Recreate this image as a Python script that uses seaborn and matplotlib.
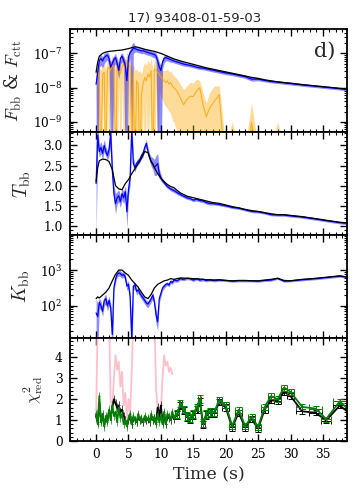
import numpy as np
import matplotlib
matplotlib.use("Agg")
import matplotlib.pyplot as plt
import seaborn as sns
from matplotlib.ticker import MultipleLocator

# time bins (s); 0.25 s resolution early, coarser later
t_bin = [0.0, 0.25, 0.5, 0.75, 1.0, 1.25, 1.5, 1.75,
         2.0, 2.25, 2.5, 2.75, 3.0, 3.25, 3.5, 3.75,
         4.0, 4.25, 4.5, 4.75, 5.0, 5.25, 5.5, 5.75,
         6.0, 6.25, 6.5, 6.75, 7.0, 7.25, 7.5, 7.75,
         8.0, 8.25, 8.5, 8.75, 9.0, 9.25, 9.5, 9.75,
         10.0, 10.25, 10.5, 10.75, 11.0, 11.25, 11.5, 11.75,
         12.0,
         12.5, 13.0, 13.5, 14.0, 14.5, 15.0, 15.5, 16.0, 16.5, 17.0, 17.5, 18.25,
         19.0, 20.0, 21.0, 22.0, 23.0, 24.0, 25.0, 26.0, 27.0, 28.0, 29.0, 30.0,
         31.8, 33.9, 35.5, 37.6, 39.6]
t_halfwidth = [0.125, 0.125, 0.125, 0.125, 0.125, 0.125, 0.125, 0.125,
               0.125, 0.125, 0.125, 0.125, 0.125, 0.125, 0.125, 0.125,
               0.125, 0.125, 0.125, 0.125, 0.125, 0.125, 0.125, 0.125,
               0.125, 0.125, 0.125, 0.125, 0.125, 0.125, 0.125, 0.125,
               0.125, 0.125, 0.125, 0.125, 0.125, 0.125, 0.125, 0.125,
               0.125, 0.125, 0.125, 0.125, 0.125, 0.125, 0.125, 0.125,
               0.125,
               0.25, 0.25, 0.25, 0.25, 0.25, 0.25, 0.25, 0.25, 0.25, 0.25, 0.25, 0.375,
               0.4, 0.5, 0.5, 0.5, 0.5, 0.5, 0.5, 0.5, 0.5, 0.5, 0.5, 0.5,
               1.0, 1.0, 0.8, 1.1, 0.9]

# blackbody flux (log10 erg/cm2/s) and errors in dex
fbb_log = [-7.90, -7.55, -7.20, -7.15, -7.22, -7.12, -7.08, -7.05,
           -7.15, -7.40, -7.30, -7.18, -7.12, -7.30, -7.50, -7.15,
           -7.08, -7.20, -7.35, -7.80, -7.10, -6.98, -6.92, -6.85,
           -6.86, -6.88, -6.90, -6.91, -6.93, -6.92, -6.94, -6.96,
           -6.97, -6.99, -7.00, -7.02, -7.03, -7.08, -7.22, -7.40,
           -7.50, -7.25, -7.15, -7.12, -7.14, -7.16, -7.18, -7.20,
           -7.22,
           -7.25, -7.28, -7.31, -7.33, -7.35, -7.37, -7.40, -7.42, -7.43, -7.45, -7.47, -7.50,
           -7.53, -7.57, -7.60, -7.64, -7.68, -7.75, -7.75, -7.79, -7.82, -7.84, -7.86, -7.88,
           -7.92, -7.96, -7.99, -8.03, -8.07]
fbb_up = [0.25, 0.20, 0.12, 0.12, 0.12, 0.12, 0.10, 0.10,
          0.12, 0.15, 0.15, 0.12, 0.12, 0.15, 0.15, 0.12,
          0.10, 0.12, 0.15, 0.20, 0.12, 0.12, 0.18, 0.18,
          0.10, 0.08, 0.08, 0.08, 0.08, 0.08, 0.08, 0.08,
          0.08, 0.08, 0.08, 0.08, 0.08, 0.10, 0.12, 0.15,
          0.15, 0.12, 0.10, 0.08, 0.08, 0.08, 0.08, 0.06,
          0.06,
          0.06, 0.06, 0.06, 0.05, 0.05, 0.05, 0.05, 0.05, 0.05, 0.05, 0.05, 0.05,
          0.05, 0.05, 0.05, 0.05, 0.05, 0.06, 0.05, 0.04, 0.04, 0.04, 0.04, 0.04,
          0.04, 0.04, 0.04, 0.04, 0.04]
fbb_lo = [3.0, 3.0, 0.20, 0.20, 0.20, 0.18, 0.15, 0.15,
          0.20, 3.0, 3.0, 0.20, 0.18, 0.20, 0.25, 0.18,
          0.15, 0.20, 3.0, 3.0, 0.20, 0.15, 3.0, 0.15,
          0.10, 0.08, 0.08, 0.08, 0.08, 0.08, 0.08, 0.08,
          0.08, 0.08, 0.08, 0.10, 0.10, 0.12, 3.0, 3.0,
          3.0, 0.20, 0.12, 0.10, 0.08, 0.08, 0.08, 0.06,
          0.06,
          0.06, 0.06, 0.06, 0.05, 0.05, 0.05, 0.05, 0.05, 0.05, 0.05, 0.05, 0.05,
          0.05, 0.05, 0.05, 0.05, 0.05, 0.06, 0.05, 0.04, 0.04, 0.04, 0.04, 0.04,
          0.04, 0.04, 0.04, 0.04, 0.04]

# Comptonised (ctt) flux, log10, errors in dex
fctt_log = [-7.60, -7.50, -7.70, -10.5, -7.60, -7.55, -10.5, -7.45,
            -7.40, -7.50, -7.30, -7.45, -10.5, -7.35, -7.50, -7.60,
            -7.40, -7.30, -7.50, -7.20, -7.30, -7.40, -10.5, -7.60,
            -10.5, -7.80, -7.90, -10.5, -8.20, -7.90, -7.70, -7.80,
            -7.60, -7.70, -7.50, -10.5, -7.45, -7.50, -7.55, -7.60,
            -7.70, -7.75, -7.80, -7.85, -7.80, -7.90, -7.85, -7.95,
            -8.00,
            -8.10, -8.30, -8.50, -8.35, -8.25, -8.26, -8.10, -8.00, -8.50, -8.85, -8.60, -8.40,
            -8.20, -10.5, -9.50, -10.5, -10.5, -9.00, -10.5, -10.5, -10.5, -9.50, -10.5, -10.5,
            -10.5, -10.5, -10.5, -10.5, -10.5]
fctt_up = [0.25, 0.25, 0.30, 3.0, 0.25, 0.25, 3.0, 0.25,
           0.25, 0.25, 0.25, 0.25, 3.0, 0.25, 0.25, 0.25,
           0.25, 0.25, 0.25, 0.25, 0.25, 0.25, 3.0, 0.30,
           3.0, 0.35, 0.35, 3.0, 0.60, 0.50, 0.45, 0.45,
           0.40, 0.40, 0.35, 3.0, 0.30, 0.30, 0.30, 0.25,
           0.25, 0.25, 0.30, 0.35, 0.35, 0.35, 0.35, 0.35,
           0.35,
           0.35, 0.40, 0.45, 0.40, 0.40, 0.40, 0.35, 0.20, 0.35, 0.40, 0.45, 0.45,
           0.25, 0.8, 0.50, 0.8, 0.8, 0.55, 0.8, 0.8, 0.8, 0.50, 0.8, 0.8,
           0.8, 0.8, 0.8, 0.8, 0.8]
fctt_lo = [0.40, 3.0, 3.0, 0.5, 0.40, 3.0, 0.5, 0.40,
           3.0, 0.40, 3.0, 0.40, 0.5, 3.0, 0.40, 3.0,
           0.40, 3.0, 3.0, 0.40, 3.0, 0.40, 0.5, 3.0,
           0.5, 3.0, 3.0, 0.5, 3.0, 0.60, 3.0, 0.60,
           3.0, 0.50, 3.0, 0.5, 3.0, 0.50, 3.0, 0.50,
           0.60, 0.60, 0.70, 0.70, 0.80, 0.80, 0.90, 1.0,
           1.0,
           1.2, 3.0, 3.0, 1.2, 3.0, 1.0, 3.0, 3.0, 3.0, 3.0, 3.0, 3.0,
           3.0, 3.0, 3.0, 3.0, 3.0, 3.0, 3.0, 3.0, 3.0, 3.0, 3.0, 3.0,
           3.0, 3.0, 3.0, 3.0, 3.0]

# blackbody temperature (keV)
tbb = [2.05, 3.25, 2.85, 2.95, 2.80, 3.00, 2.85, 2.75,
       2.90, 3.30, 2.40, 1.80, 1.55, 1.70, 1.75, 1.60,
       1.80, 1.70, 1.85, 1.35, 1.90, 2.20, 3.40, 2.55,
       2.45, 2.55, 2.60, 2.65, 2.75, 2.80, 2.95, 3.05,
       2.85, 2.70, 2.60, 2.55, 2.45, 2.50, 2.55, 2.30,
       2.20, 2.12, 2.08, 2.02, 1.98, 1.95, 1.92, 1.90,
       1.88,
       1.83, 1.78, 1.74, 1.70, 1.68, 1.64, 1.66, 1.63, 1.62, 1.58, 1.56, 1.55,
       1.53, 1.50, 1.46, 1.44, 1.40, 1.36, 1.35, 1.32, 1.28, 1.27, 1.27, 1.25,
       1.22, 1.17, 1.13, 1.08, 1.05]
tbb_err = [1.30, 0.30, 0.15, 0.15, 0.15, 0.15, 0.12, 0.12,
           0.15, 0.30, 0.25, 0.20, 0.25, 0.15, 0.15, 0.15,
           0.15, 0.15, 0.15, 0.40, 0.15, 0.20, 0.30, 0.15,
           0.10, 0.08, 0.08, 0.08, 0.08, 0.08, 0.08, 0.10,
           0.10, 0.10, 0.12, 0.15, 0.20, 0.25, 0.25, 0.12,
           0.08, 0.06, 0.05, 0.05, 0.05, 0.05, 0.05, 0.05,
           0.05,
           0.05, 0.04, 0.04, 0.04, 0.04, 0.04, 0.04, 0.04, 0.04, 0.04, 0.04, 0.03,
           0.03, 0.03, 0.03, 0.03, 0.03, 0.03, 0.03, 0.03, 0.03, 0.03, 0.03, 0.03,
           0.03, 0.03, 0.03, 0.03, 0.03]

# blackbody normalisation, log10
kbb_log = [1.80, 1.70, 2.10, 2.00, 1.85, 2.15, 2.20, 2.00,
           2.15, 1.95, 1.20, 2.50, 2.75, 2.88, 2.92, 2.90,
           2.85, 2.88, 2.80, 2.55, 2.60, 2.25, 1.05, 2.55,
           2.58, 2.40, 2.45, 2.35, 2.28, 2.22, 2.15, 2.08,
           2.05, 2.12, 2.20, 2.30, 2.10, 1.75, 1.55, 2.20,
           2.35, 2.50, 2.55, 2.60, 2.62, 2.58, 2.68, 2.65,
           2.72,
           2.70, 2.76, 2.74, 2.77, 2.76, 2.72, 2.76, 2.72, 2.74, 2.71, 2.73, 2.71,
           2.72, 2.71, 2.69, 2.70, 2.70, 2.70, 2.69, 2.71, 2.72, 2.77, 2.69, 2.70,
           2.73, 2.76, 2.79, 2.83, 2.78]
kbb_up = [0.40, 0.35, 0.12, 0.12, 0.12, 0.12, 0.12, 0.12,
          0.12, 0.12, 0.30, 0.10, 0.08, 0.08, 0.08, 0.08,
          0.08, 0.08, 0.08, 0.10, 0.10, 0.12, 0.30, 0.10,
          0.08, 0.08, 0.08, 0.08, 0.08, 0.08, 0.08, 0.08,
          0.08, 0.08, 0.08, 0.08, 0.10, 0.15, 0.15, 0.10,
          0.08, 0.06, 0.06, 0.05, 0.05, 0.05, 0.05, 0.05,
          0.05,
          0.04, 0.04, 0.04, 0.04, 0.04, 0.04, 0.04, 0.04, 0.04, 0.04, 0.04, 0.04,
          0.03, 0.03, 0.03, 0.03, 0.03, 0.03, 0.03, 0.03, 0.03, 0.03, 0.03, 0.03,
          0.03, 0.03, 0.03, 0.03, 0.03]
kbb_lo = [1.00, 1.00, 0.15, 0.15, 0.15, 0.15, 0.15, 0.15,
          0.15, 0.20, 1.00, 0.12, 0.10, 0.08, 0.08, 0.08,
          0.08, 0.08, 0.10, 0.12, 0.12, 0.15, 1.00, 0.12,
          0.10, 0.10, 0.10, 0.10, 0.10, 0.10, 0.10, 0.10,
          0.10, 0.10, 0.10, 0.10, 0.15, 0.25, 0.25, 0.12,
          0.10, 0.08, 0.06, 0.06, 0.05, 0.05, 0.05, 0.05,
          0.05,
          0.04, 0.04, 0.04, 0.04, 0.04, 0.04, 0.04, 0.04, 0.04, 0.04, 0.04, 0.04,
          0.03, 0.03, 0.03, 0.03, 0.03, 0.03, 0.03, 0.03, 0.03, 0.03, 0.03, 0.03,
          0.03, 0.03, 0.03, 0.03, 0.03]

# reduced chi^2: bb+ctt fit (green) and reference fit (black)
chi_green = [1.30, 0.80, 2.15, 0.90, 1.30, 0.70, 1.20, 0.90,
             1.50, 1.00, 1.70, 1.20, 1.40, 0.90, 1.60, 1.10,
             1.30, 0.80, 1.00, 0.70, 1.10, 1.30, 0.80, 1.20,
             1.00, 0.90, 1.30, 1.00, 1.10, 0.90, 1.20, 1.00,
             1.10, 0.90, 1.30, 1.00, 1.10, 0.80, 1.30, 0.90,
             1.20, 0.80, 1.40, 0.80, 1.30, 1.20, 1.00, 1.40,
             1.10,
             1.30, 1.80, 1.50, 1.20, 1.10, 1.30, 1.60, 2.00, 0.85, 1.30, 1.40, 1.40,
             1.95, 1.72, 0.72, 1.50, 0.72, 1.15, 0.68, 1.62, 2.15, 2.00, 2.55, 2.35,
             1.63, 1.55, 1.05, 1.90, 1.30]
chi_black = [1.20, 0.90, 1.80, 1.00, 1.20, 0.80, 1.10, 1.00,
             1.40, 1.20, 1.60, 2.00, 1.80, 1.60, 1.70, 1.40,
             1.50, 1.20, 1.00, 0.80, 1.00, 1.20, 0.80, 1.10,
             1.00, 0.90, 1.20, 1.00, 1.05, 0.90, 1.10, 1.00,
             1.05, 0.90, 1.20, 1.00, 1.10, 0.90, 1.60, 1.20,
             1.70, 0.90, 1.30, 0.80, 1.20, 1.10, 1.00, 1.30,
             1.05,
             1.25, 1.70, 1.45, 1.15, 1.05, 1.25, 1.50, 1.90, 0.80, 1.25, 1.35, 1.35,
             1.85, 1.60, 0.65, 1.35, 0.65, 1.05, 0.60, 1.50, 1.95, 1.90, 2.35, 2.15,
             1.42, 1.35, 0.98, 1.70, 1.20]
chi_err = [0.20, 0.20, 0.20, 0.20, 0.20, 0.20, 0.20, 0.20,
           0.20, 0.20, 0.20, 0.20, 0.20, 0.20, 0.20, 0.20,
           0.20, 0.20, 0.20, 0.20, 0.20, 0.20, 0.20, 0.20,
           0.20, 0.20, 0.20, 0.20, 0.20, 0.20, 0.20, 0.20,
           0.20, 0.20, 0.20, 0.20, 0.20, 0.20, 0.20, 0.20,
           0.20, 0.20, 0.20, 0.20, 0.20, 0.20, 0.20, 0.20,
           0.20,
           0.18, 0.18, 0.18, 0.18, 0.18, 0.18, 0.18, 0.18, 0.18, 0.18, 0.18, 0.18,
           0.15, 0.15, 0.15, 0.15, 0.15, 0.15, 0.15, 0.15, 0.15, 0.15, 0.15, 0.15,
           0.12, 0.12, 0.12, 0.12, 0.12]
# bb-only fit, first 11.75 s
chi_pink = [1.10, 6.0, 6.0, 6.0, 6.0, 6.0, 6.0, 6.0,
            6.0, 1.90, 1.60, 3.00, 4.10, 3.40, 3.80, 2.60,
            3.30, 1.70, 2.30, 1.10, 2.00, 1.30, 3.30, 6.0,
            6.0, 6.0, 6.0, 6.0, 6.0, 6.0, 6.0, 6.0,
            6.0, 6.0, 6.0, 6.0, 6.0, 2.50, 1.50, 1.20,
            1.40, 3.00, 4.10, 3.60, 3.80, 3.30, 3.50, 3.20]

# total-model curves (black), own time grid
t_tot = [0.0, 0.25, 0.5, 1.0, 1.5, 2.0, 2.5, 3.0, 3.5, 4.0, 4.5, 5.0, 5.5, 6.0, 6.5,
         7.0, 7.5, 8.0, 8.5, 9.0, 9.5, 10.0, 10.5, 11.0, 11.5, 12.0, 13.0, 14.0, 15.0,
         16.0, 17.0, 18.0, 19.0, 20.0, 21.0, 22.0, 23.0, 24.0, 25.0, 26.0, 27.0, 28.0,
         29.0, 30.0, 31.8, 33.9, 35.5, 37.6, 39.6]
ftot_log = [-7.55, -7.25, -7.08, -7.00, -6.96, -6.94, -6.93, -6.92, -6.91, -6.90, -6.88,
            -6.86, -6.83, -6.81, -6.82, -6.85, -6.88, -6.90, -6.92, -6.94, -6.97, -7.00,
            -7.04, -7.08, -7.12, -7.16, -7.22, -7.27, -7.32, -7.37, -7.42, -7.46, -7.50,
            -7.54, -7.58, -7.62, -7.66, -7.70, -7.73, -7.77, -7.80, -7.83, -7.85, -7.87,
            -7.91, -7.95, -7.98, -8.02, -8.06]
ttot = [2.10, 2.45, 2.62, 2.66, 2.65, 2.60, 2.40, 2.00, 1.92, 1.90, 2.05, 2.15, 2.30,
        2.42, 2.55, 2.68, 2.85, 2.82, 2.60, 2.45, 2.30, 2.18, 2.10, 2.03, 1.98, 1.95,
        1.82, 1.74, 1.70, 1.66, 1.62, 1.58, 1.56, 1.52, 1.48, 1.45, 1.41, 1.38, 1.36,
        1.33, 1.30, 1.28, 1.28, 1.26, 1.23, 1.18, 1.14, 1.09, 1.06]
ktot_log = [2.20, 2.25, 2.22, 2.30, 2.38, 2.50, 2.70, 2.88, 3.00, 3.00, 2.92, 2.85, 2.72,
            2.62, 2.52, 2.38, 2.25, 2.20, 2.32, 2.50, 2.60, 2.65, 2.70, 2.72, 2.76, 2.74,
            2.78, 2.77, 2.76, 2.75, 2.73, 2.72, 2.73, 2.71, 2.70, 2.71, 2.71, 2.70, 2.70,
            2.72, 2.74, 2.77, 2.71, 2.70, 2.74, 2.77, 2.80, 2.84, 2.78]

TITLE = "17) 93408-01-59-03"
N_FINE = 49  # number of 0.25 s bins

sns.set_style("ticks")
plt.rcParams.update({
    "font.family": "DejaVu Serif",
    "mathtext.fontset": "cm",
    "axes.linewidth": 1.3,
    "axes.edgecolor": "black",
    "xtick.direction": "in", "ytick.direction": "in",
    "xtick.top": True, "ytick.right": True,
    "xtick.minor.visible": True, "ytick.minor.visible": True,
    "xtick.major.size": 5, "ytick.major.size": 5,
    "xtick.minor.size": 2.5, "ytick.minor.size": 2.5,
    "xtick.major.width": 1.0, "ytick.major.width": 1.0,
    "xtick.minor.width": 0.8, "ytick.minor.width": 0.8,
    "xtick.major.pad": 5, "ytick.major.pad": 5.5,
    "xtick.color": "black", "ytick.color": "black",
    "xtick.labelsize": 8.8, "ytick.labelsize": 8.8,
})

t = np.array(t_bin)
hw = np.array(t_halfwidth)
tt = np.array(t_tot)

fig, axes = plt.subplots(4, 1, sharex=True, figsize=(3.58, 4.95), dpi=100)
fig.subplots_adjust(left=0.196, right=0.969, top=0.941, bottom=0.109, hspace=0)

# 1. fluxes
ax = axes[0]
fc = np.array(fctt_log)
ax.fill_between(t, 10 ** (fc - np.array(fctt_lo)), 10 ** (fc + np.array(fctt_up)),
                color="orange", alpha=0.4, lw=0)
sns.lineplot(x=t, y=10 ** fc, ax=ax, color="orange", lw=0.8, alpha=0.8, sort=False, estimator=None)
fb = np.array(fbb_log)
ax.fill_between(t, 10 ** (fb - np.array(fbb_lo)), 10 ** (fb + np.array(fbb_up)),
                color="blue", alpha=0.45, lw=0)
sns.lineplot(x=t, y=10 ** fb, ax=ax, color="blue", lw=0.9, sort=False, estimator=None)
sns.lineplot(x=tt, y=10 ** np.array(ftot_log), ax=ax, color="black", lw=0.9, sort=False, estimator=None)
ax.set_yscale("log")
ax.set_ylim(5e-10, 5.1e-7)
ax.set_ylabel(r"$F_{\rm bb}$ & $F_{\rm ctt}$", fontsize=13, labelpad=6)
ax.set_title(TITLE, fontsize=9.5, family="DejaVu Sans", x=0.45, pad=5)
ax.text(0.96, 0.79, "d)", transform=ax.transAxes, ha="right", va="center", fontsize=15)

# 2. temperature
ax = axes[1]
tb = np.array(tbb)
te = np.array(tbb_err)
ax.fill_between(t, tb - te, tb + te, color="blue", alpha=0.45, lw=0)
sns.lineplot(x=t, y=tb, ax=ax, color="blue", lw=0.9, sort=False, estimator=None)
sns.lineplot(x=tt, y=ttot, ax=ax, color="black", lw=0.9, sort=False, estimator=None)
ax.set_ylim(0.77, 3.33)
ax.yaxis.set_major_locator(MultipleLocator(0.5))
ax.yaxis.set_minor_locator(MultipleLocator(0.1))
ax.set_ylabel(r"$T_{\rm bb}$", fontsize=14, labelpad=7)

# 3. normalisation
ax = axes[2]
kb = np.array(kbb_log)
ax.fill_between(t, 10 ** (kb - np.array(kbb_lo)), 10 ** (kb + np.array(kbb_up)),
                color="blue", alpha=0.45, lw=0)
sns.lineplot(x=t, y=10 ** kb, ax=ax, color="blue", lw=0.9, sort=False, estimator=None)
sns.lineplot(x=tt, y=10 ** np.array(ktot_log), ax=ax, color="black", lw=0.9, sort=False, estimator=None)
ax.set_yscale("log")
ax.set_ylim(12.5, 9500)
ax.set_ylabel(r"$K_{\rm bb}$", fontsize=14, labelpad=6)

# 4. reduced chi^2
ax = axes[3]
sns.lineplot(x=t[:len(chi_pink)], y=chi_pink, ax=ax, color="pink", lw=1.3, sort=False, estimator=None)
for vals, col in [(chi_black, "black"), (chi_green, "green")]:
    vals = np.array(vals)
    err = np.array(chi_err)
    ax.errorbar(t[:N_FINE], vals[:N_FINE], xerr=hw[:N_FINE], yerr=err[:N_FINE],
                fmt="none", ecolor=col, elinewidth=0.6, capsize=0, alpha=0.8)
    ax.errorbar(t[N_FINE:], vals[N_FINE:], xerr=hw[N_FINE:], yerr=err[N_FINE:],
                fmt="none", ecolor=col, elinewidth=0.7, capsize=2, capthick=0.7)
    sns.lineplot(x=t, y=vals, ax=ax, color=col, lw=1.3, sort=False, estimator=None)
ax.set_ylim(0, 4.92)
ax.yaxis.set_major_locator(MultipleLocator(1))
ax.yaxis.set_minor_locator(MultipleLocator(0.2))
ax.set_ylabel(r"$\chi^2_{\rm red}$", fontsize=12, labelpad=7)

ax.set_xlim(-4, 38.7)
ax.xaxis.set_major_locator(MultipleLocator(5))
ax.xaxis.set_minor_locator(MultipleLocator(1))
ax.set_xlabel("Time (s)", fontsize=12.5)

fig.savefig("out.png", dpi=100)
